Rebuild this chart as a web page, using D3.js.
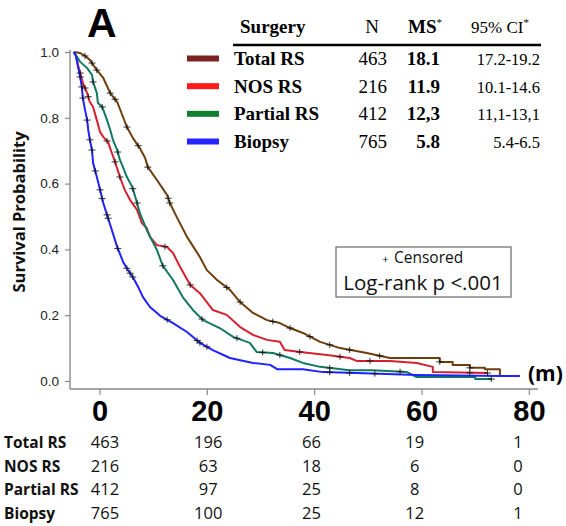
<!DOCTYPE html>
<html>
<head>
<meta charset="utf-8">
<script src="https://cdnjs.cloudflare.com/ajax/libs/d3/7.8.5/d3.min.js"></script>
<style>
  html, body { margin: 0; padding: 0; background: #fff; }
  svg { display: block; }
</style>
</head>
<body>
<svg id="chart" width="566" height="526"></svg>
<script>
// ---- Kaplan-Meier curves (time in months on the drawn axis, survival probability) ----
const totalTime = [-4.8, -3.6, -2.7, -1.8, -0.5, 0.7, 2.0, 3.3, 5.1, 6.2, 7.5, 8.5, 9.0, 10.7, 12.6, 13.1, 14.4, 16.3, 18.7, 20.0, 21.9, 24.3, 26.2, 28.6, 31.2, 33.6, 35.5, 37.9, 41.1, 44.8, 49.8, 54.1, 63.4, 63.4, 65.8, 65.8, 69.0, 69.0, 71.8, 71.8, 74.6, 74.6, 78.3];
const totalSurv = [1.0, 0.997, 0.988, 0.976, 0.945, 0.921, 0.875, 0.848, 0.772, 0.739, 0.708, 0.678, 0.650, 0.611, 0.565, 0.541, 0.498, 0.438, 0.377, 0.337, 0.307, 0.277, 0.240, 0.207, 0.185, 0.176, 0.161, 0.146, 0.119, 0.100, 0.085, 0.070, 0.070, 0.058, 0.058, 0.049, 0.049, 0.040, 0.040, 0.036, 0.036, 0.015, 0.015];

const nosTime = [-4.8, -4.4, -4.0, -3.6, -3.1, -2.3, -1.8, -1.2, -0.5, 0.1, 0.7, 1.6, 2.3, 2.9, 3.8, 4.7, 5.7, 7.0, 7.9, 8.8, 9.4, 10.7, 12.6, 13.7, 15.0, 16.9, 18.7, 21.1, 23.7, 26.2, 28.6, 31.2, 33.6, 34.5, 37.4, 42.4, 46.6, 47.9, 54.1, 59.1, 62.1, 62.1, 72.3];
const nosSurv = [1.0, 0.99, 0.96, 0.936, 0.906, 0.875, 0.848, 0.833, 0.793, 0.757, 0.742, 0.726, 0.693, 0.666, 0.620, 0.581, 0.550, 0.520, 0.480, 0.465, 0.438, 0.413, 0.407, 0.389, 0.347, 0.292, 0.267, 0.216, 0.201, 0.164, 0.140, 0.125, 0.119, 0.094, 0.088, 0.079, 0.070, 0.061, 0.061, 0.055, 0.043, 0.027, 0.024];

const partialTime = [-4.8, -3.6, -2.3, -1.4, -1.2, -0.5, -0.3, 0.5, 1.4, 2.0, 2.5, 3.3, 3.8, 4.2, 5.1, 6.1, 7.0, 7.5, 8.8, 10.7, 11.8, 13.7, 15.5, 17.4, 19.3, 22.4, 24.9, 28.0, 29.3, 32.3, 35.5, 37.9, 41.1, 46.6, 50.9, 57.3, 59.1, 70.0, 70.0, 73.1];
const partialSurv = [1.0, 0.970, 0.951, 0.930, 0.909, 0.875, 0.845, 0.833, 0.793, 0.763, 0.733, 0.702, 0.672, 0.657, 0.620, 0.590, 0.541, 0.511, 0.459, 0.398, 0.350, 0.307, 0.255, 0.216, 0.185, 0.161, 0.134, 0.116, 0.088, 0.085, 0.070, 0.055, 0.043, 0.033, 0.033, 0.027, 0.012, 0.012, 0.006, 0.006];

const biopsyTime = [-4.8, -4.4, -4.0, -3.6, -3.3, -3.1, -2.7, -2.3, -2.1, -1.8, -1.4, -1.2, -0.5, 0.1, 0.7, 1.4, 2.0, 3.3, 4.4, 5.3, 6.2, 7.2, 8.1, 9.4, 11.3, 13.7, 16.3, 18.7, 21.1, 24.3, 28.6, 31.8, 33.1, 37.9, 41.6, 47.9, 59.1, 74.6, 78.3];
const biopsySurv = [1.0, 0.988, 0.954, 0.924, 0.894, 0.860, 0.824, 0.793, 0.763, 0.733, 0.702, 0.663, 0.620, 0.581, 0.541, 0.505, 0.474, 0.407, 0.362, 0.337, 0.316, 0.286, 0.255, 0.225, 0.198, 0.176, 0.149, 0.116, 0.094, 0.070, 0.055, 0.049, 0.036, 0.036, 0.027, 0.024, 0.018, 0.015, 0.015];

// censoring times per group
const totalCensor = [-2.7, -1.4, -0.5, 2.0, 2.9, 5.1, 7.2, 9.0, 12.8, 13.1, 23.7, 26.2, 32.3, 35.5, 39.2, 42.9, 46.6, 52.2, 63.4, 69.0];
const nosCensor = [-3.6, -2.7, -2.1, 1.4, 2.9, 3.8, 12.2, 16.9, 37.3, 44.8, 50.4, 69.0, 72.3];
const partialCensor = [-1.2, 0.5, 3.4, 6.2, 7.0, 11.8, 19.1, 25.6, 30.4, 33.6, 42.9, 56.0, 73.0];
const biopsyCensor = [-3.6, -3.3, -3.1, -2.3, -1.8, -1.4, -0.8, 0.1, 0.5, 1.4, 1.6, 3.4, 5.1, 5.7, 6.2, 12.6, 18.2, 18.7, 20.0, 42.9, 46.6, 51.3];

// ---- legend table ----
const groups = ["Total RS", "NOS RS", "Partial RS", "Biopsy"];
const groupN = ["463", "216", "412", "765"];
const groupMS = ["18.1", "11.9", "12,3", "5.8"];
const groupCI = ["17.2-19.2", "10.1-14.6", "11,1-13,1", "5.4-6.5"];

// ---- number at risk ----
const riskTimes = [0, 20, 40, 60, 80];
const riskTotal = [463, 196, 66, 19, 1];
const riskNos = [216, 63, 18, 6, 0];
const riskPartial = [412, 97, 25, 8, 0];
const riskBiopsy = [765, 100, 25, 12, 1];

// ---- axes ----
const xTicks = [0, 20, 40, 60, 80];
const yTicks = [0, 0.2, 0.4, 0.6, 0.8, 1.0];

const curveColors = ["#6e3d0c", "#d81f2e", "#127a5c", "#1f22ff"];
const swatchColors = ["#7b2121", "#ff1a1a", "#108030", "#2424ff"];

const series = [
  { time: totalTime, surv: totalSurv, censor: totalCensor },
  { time: nosTime, surv: nosSurv, censor: nosCensor },
  { time: partialTime, surv: partialSurv, censor: partialCensor },
  { time: biopsyTime, surv: biopsySurv, censor: biopsyCensor }
];
const riskRows = [riskTotal, riskNos, riskPartial, riskBiopsy];

const svg = d3.select("#chart");
svg.append("rect").attr("width", 566).attr("height", 526).attr("fill", "#fff");

const x = d3.scaleLinear().domain([-5.5, 81.7]).range([70, 538]);
const y = d3.scaleLinear().domain([0, 1]).range([381, 52]);

const narrow = "'Liberation Sans Narrow', 'Arial Narrow', 'Liberation Sans', sans-serif";
const sans = "'Open Sans', 'Noto Sans', sans-serif";
const serif = "'Liberation Serif', 'Times New Roman', serif";
const axisGrey = "#8a8a8a";

// y axis
const yAxis = svg.append("g")
  .attr("transform", "translate(70,0)")
  .call(d3.axisLeft(y).tickValues(yTicks).tickSize(5).tickPadding(6).tickFormat(d3.format(".1f")));
yAxis.select(".domain").remove();
yAxis.selectAll("line").attr("stroke", axisGrey).attr("stroke-width", 1.2);
yAxis.selectAll("text").attr("font-family", narrow).attr("font-size", 13.5).attr("fill", "#222");

// x axis
const xAxis = svg.append("g")
  .attr("transform", "translate(0,389)")
  .call(d3.axisBottom(x).tickValues(xTicks).tickSize(6));
xAxis.select(".domain").remove();
xAxis.selectAll("line").attr("stroke", axisGrey).attr("stroke-width", 1.2);
xAxis.selectAll("text")
  .attr("y", 32).attr("dy", 0)
  .attr("font-family", narrow).attr("font-weight", "bold").attr("font-size", 29).attr("fill", "#000");

// axis frame lines
svg.append("line").attr("x1", 70).attr("x2", 70).attr("y1", 50).attr("y2", 389)
  .attr("stroke", axisGrey).attr("stroke-width", 1.4);
svg.append("line").attr("x1", 70).attr("x2", 538).attr("y1", 389).attr("y2", 389)
  .attr("stroke", axisGrey).attr("stroke-width", 1.4);

// y axis title
svg.append("text")
  .attr("transform", "translate(25,212) rotate(-90)")
  .attr("text-anchor", "middle")
  .attr("font-family", sans).attr("font-weight", "bold").attr("font-size", 16.5)
  .attr("fill", "#111")
  .text("Survival Probability");

// (m) unit label
svg.append("text").attr("x", 528).attr("y", 381)
  .attr("font-family", sans).attr("font-weight", "bold").attr("font-size", 21).attr("fill", "#000")
  .text("(m)");

// KM curves
const line = d3.line().x(d => x(d[0])).y(d => y(d[1]));
function survAt(s, t) {
  // position on the drawn path at time t
  const tm = s.time, sv = s.surv;
  for (let i = tm.length - 1; i >= 0; i--) {
    if (tm[i] <= t) {
      if (i === tm.length - 1) return sv[i];
      const t0 = tm[i], t1 = tm[i + 1];
      if (t1 === t0) return sv[i + 1];
      return sv[i] + (sv[i + 1] - sv[i]) * (t - t0) / (t1 - t0);
    }
  }
  return sv[0];
}

series.forEach((s, i) => {
  const pts = s.time.map((t, k) => [t, s.surv[k]]);
  svg.append("path")
    .attr("d", line(pts))
    .attr("fill", "none")
    .attr("stroke", curveColors[i])
    .attr("stroke-width", 2)
    .attr("stroke-linejoin", "round");
});

// censor marks
series.forEach((s, i) => {
  const g = svg.append("g").attr("stroke", "#111").attr("stroke-width", 1).attr("opacity", 0.85);
  s.censor.forEach(t => {
    const cx = x(t), cy = y(survAt(s, t));
    g.append("line").attr("x1", cx - 3.5).attr("x2", cx + 3.5).attr("y1", cy).attr("y2", cy);
    g.append("line").attr("x1", cx).attr("x2", cx).attr("y1", cy - 3).attr("y2", cy + 3);
  });
});

// panel letter
svg.append("text").attr("x", 87).attr("y", 37)
  .attr("font-family", "'Liberation Sans', Arial, sans-serif").attr("font-weight", "bold")
  .attr("font-size", 41).attr("fill", "#000").text("A");

// legend table
const legendRowY = d3.scalePoint().domain(groups).range([65, 148]);
const leg = svg.append("g");
leg.append("text").attr("x", 240).attr("y", 33)
  .attr("font-family", serif).attr("font-weight", "bold").attr("font-size", 19).text("Surgery");
leg.append("text").attr("x", 372).attr("y", 33).attr("text-anchor", "middle")
  .attr("font-family", serif).attr("font-size", 19).text("N");
const msHead = leg.append("text").attr("x", 408).attr("y", 33)
  .attr("font-family", serif).attr("font-weight", "bold").attr("font-size", 19);
msHead.append("tspan").text("MS");
msHead.append("tspan").attr("font-size", 11).attr("dy", -7).attr("font-weight", "normal").text("*");
const ciHead = leg.append("text").attr("x", 471).attr("y", 33)
  .attr("font-family", serif).attr("font-size", 17);
ciHead.append("tspan").text("95% CI");
ciHead.append("tspan").attr("font-size", 11).attr("dy", -7).text("*");
leg.append("line").attr("x1", 233).attr("x2", 541).attr("y1", 45).attr("y2", 45)
  .attr("stroke", "#000").attr("stroke-width", 2.5);

groups.forEach((name, i) => {
  const by = legendRowY(name);
  leg.append("rect").attr("x", 187).attr("y", by - 9.5).attr("width", 32).attr("height", 6)
    .attr("fill", swatchColors[i]);
  leg.append("text").attr("x", 234).attr("y", by)
    .attr("font-family", serif).attr("font-weight", "bold").attr("font-size", 19).text(name);
  leg.append("text").attr("x", 387).attr("y", by).attr("text-anchor", "end")
    .attr("font-family", serif).attr("font-size", 19).text(groupN[i]);
  leg.append("text").attr("x", 440).attr("y", by).attr("text-anchor", "end")
    .attr("font-family", serif).attr("font-weight", "bold").attr("font-size", 19).text(groupMS[i]);
  leg.append("text").attr("x", 540).attr("y", by).attr("text-anchor", "end")
    .attr("font-family", serif).attr("font-size", 16.5).text(groupCI[i]);
});

// censored / log-rank box
svg.append("rect").attr("x", 336).attr("y", 247).attr("width", 175).attr("height", 50)
  .attr("fill", "#fff").attr("stroke", "#666").attr("stroke-width", 1.2);
svg.append("text").attr("x", 385.5).attr("y", 263).attr("text-anchor", "middle")
  .attr("font-family", sans).attr("font-size", 11).text("+");
svg.append("text").attr("x", 394).attr("y", 263)
  .attr("font-family", sans).attr("font-size", 15.5).attr("fill", "#111").text("Censored");
svg.append("text").attr("x", 423).attr("y", 290).attr("text-anchor", "middle")
  .attr("font-family", sans).attr("font-size", 20.5).attr("fill", "#111").text("Log-rank p <.001");

// number-at-risk table
const riskX = d3.scaleLinear().domain([0, 80]).range([105, 518]);
const riskY = d3.scalePoint().domain(groups).range([448, 519]);
groups.forEach((name, i) => {
  const by = riskY(name);
  svg.append("text").attr("x", 4).attr("y", by)
    .attr("font-family", sans).attr("font-weight", "bold").attr("font-size", 15.5).attr("fill", "#111")
    .text(name);
  riskRows[i].forEach((v, k) => {
    svg.append("text").attr("x", riskX(riskTimes[k])).attr("y", by).attr("text-anchor", "middle")
      .attr("font-family", sans).attr("font-size", 16.5).attr("fill", "#111").text(v);
  });
});
</script>
</body>
</html>
